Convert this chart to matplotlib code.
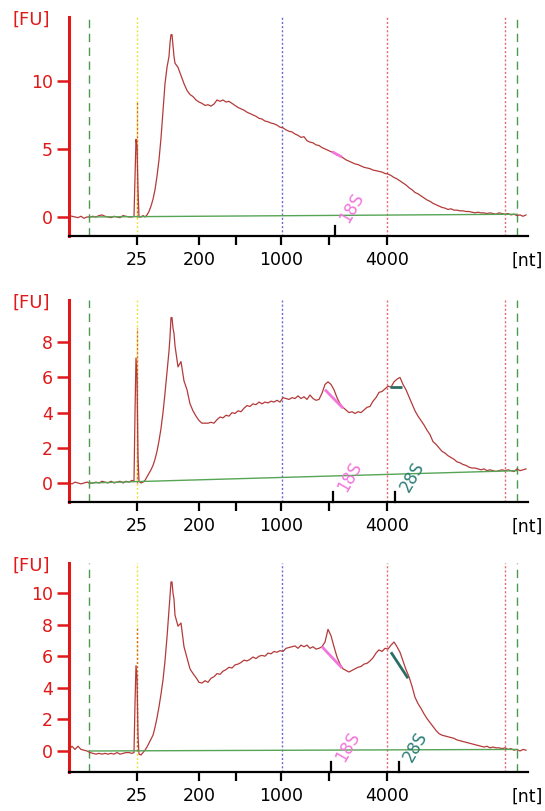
import numpy as np
import matplotlib as mpl
mpl.use('Agg')
from matplotlib import pyplot as plt

# dpi for figure
my_dpi = 100

# sample positions along the migration axis (screen-like units)
pos_head = [69, 72, 75, 78, 81, 84, 87, 90, 93, 96,
            99, 102, 105, 108, 111, 114, 117, 120, 123, 126,
            129, 132, 134, 135, 136, 137, 138, 139, 141, 143,
            145, 147, 149, 151, 153, 155, 157, 159, 161, 163,
            165, 167, 169, 170, 171, 172, 173, 174]
pos_tail = list(range(175, 527, 3))
pos = pos_head + pos_tail

# fluorescence [FU], sample 1
fu1 = [0.1, 0.05, 0.0, -0.05, 0.05, -0.1, 0.0, 0.0, 0.05, 0.0,
       0.1, 0.15, 0.05, 0.0, -0.05, 0.05, 0.0, -0.05, 0.1, 0.05,
       0.0, 0.0, 0.05, 3.0, 5.7, 5.2, 2.0, 0.0, 0.0, 0.1,
       0.0, 0.15, 0.4, 0.8, 1.3, 2.0, 3.0, 4.2, 5.8, 7.8,
       9.8, 11.0, 11.8, 12.8, 13.4, 13.4, 12.6, 11.8,
       11.3, 11.0, 10.4, 9.8, 9.3, 9.0, 8.85, 8.6, 8.45, 8.35,
       8.2, 8.25, 8.15, 8.3, 8.6, 8.5, 8.6, 8.45, 8.5, 8.35,
       8.2, 8.05, 7.95, 7.85, 7.7, 7.6, 7.5, 7.4, 7.25, 7.2,
       7.05, 7.0, 6.9, 6.85, 6.75, 6.6, 6.55, 6.4, 6.3, 6.25,
       6.1, 6.0, 5.85, 5.9, 5.6, 5.5, 5.45, 5.3, 5.25, 5.1,
       5.0, 4.9, 4.8, 4.7, 4.55, 4.5, 4.35, 4.2, 4.1, 4.0,
       3.9, 3.85, 3.75, 3.65, 3.6, 3.55, 3.45, 3.4, 3.35, 3.3,
       3.2, 3.15, 3.05, 2.9, 2.8, 2.65, 2.5, 2.35, 2.15, 2.0,
       1.8, 1.7, 1.55, 1.4, 1.25, 1.15, 1.0, 0.9, 0.8, 0.7,
       0.65, 0.55, 0.6, 0.5, 0.5, 0.45, 0.45, 0.4, 0.4, 0.35,
       0.3, 0.35, 0.3, 0.3, 0.25, 0.3, 0.25, 0.2, 0.3, 0.25,
       0.2, 0.25, 0.15, 0.2, 0.1, 0.15, 0.05, 0.15]

# fluorescence [FU], sample 2
fu2 = [0.0, -0.05, 0.05, 0.0, -0.05, 0.0, 0.05, 0.0, 0.0, 0.05,
       0.0, 0.1, 0.05, 0.0, 0.1, 0.0, 0.05, 0.1, 0.0, 0.1,
       0.05, 0.15, 0.1, 4.0, 7.1, 6.0, 1.5, 0.1, 0.0, 0.05,
       0.15, 0.35, 0.55, 0.75, 1.0, 1.35, 1.8, 2.4, 3.1, 4.0,
       5.1, 6.3, 7.5, 8.3, 9.4, 9.4, 8.8, 8.5,
       7.8, 6.6, 6.9, 5.8, 5.3, 4.5, 4.1, 3.8, 3.55, 3.4,
       3.4, 3.4, 3.45, 3.4, 3.6, 3.75, 3.7, 3.85, 3.8, 4.0,
       3.95, 4.1, 4.05, 4.25, 4.4, 4.35, 4.5, 4.45, 4.6, 4.5,
       4.6, 4.55, 4.65, 4.6, 4.7, 4.6, 4.85, 4.8, 4.75, 4.85,
       4.8, 4.95, 4.8, 4.9, 4.75, 5.0, 4.8, 4.7, 4.75, 5.1,
       5.6, 5.75, 5.6, 5.3, 4.85, 4.5, 4.3, 4.15, 4.0, 4.05,
       3.95, 4.05, 4.0, 4.15, 4.3, 4.35, 4.65, 4.85, 5.15, 5.2,
       5.35, 5.5, 5.45, 5.75, 5.9, 6.0, 5.6, 5.3, 4.9, 4.5,
       4.1, 3.8, 3.55, 3.3, 3.0, 2.75, 2.35, 2.2, 2.0, 1.8,
       1.7, 1.55, 1.45, 1.35, 1.2, 1.15, 1.05, 1.0, 0.9, 0.85,
       0.85, 0.8, 0.75, 0.8, 0.7, 0.75, 0.7, 0.65, 0.7, 0.75,
       0.7, 0.75, 0.7, 0.65, 0.8, 0.7, 0.75, 0.8]

# fluorescence [FU], sample 3
fu3 = [0.1, 0.3, 0.1, 0.3, 0.1, 0.05, 0.0, -0.1, -0.15, -0.2,
       -0.15, -0.2, -0.15, -0.2, -0.15, -0.2, -0.1, -0.2, -0.15, -0.1,
       -0.1, -0.15, -0.1, 3.0, 5.4, 4.6, 1.0, -0.2, -0.25, -0.1,
       0.05, 0.25, 0.5, 0.75, 1.0, 1.5, 2.1, 2.8, 3.6, 4.5,
       5.7, 7.2, 8.9, 9.8, 10.7, 10.7, 10.0, 9.6,
       8.6, 7.9, 8.1, 6.6, 5.9, 5.2, 4.9, 4.65, 4.35, 4.3,
       4.45, 4.35, 4.6, 4.7, 4.9, 4.85, 5.05, 5.15, 5.3, 5.25,
       5.45, 5.5, 5.6, 5.75, 5.7, 5.8, 5.95, 5.85, 6.0, 6.05,
       6.0, 6.2, 6.15, 6.3, 6.25, 6.35, 6.3, 6.5, 6.55, 6.6,
       6.65, 6.5, 6.7, 6.6, 6.7, 6.5, 6.6, 6.45, 6.5, 6.6,
       6.9, 7.7, 7.3, 6.6, 5.95, 5.5, 5.2, 5.1, 5.0, 5.1,
       5.2, 5.3, 5.35, 5.5, 5.55, 5.7, 5.9, 6.2, 6.4, 6.3,
       6.5, 6.45, 6.7, 6.9, 6.6, 6.25, 5.7, 5.15, 4.7, 4.1,
       3.4, 3.0, 2.7, 2.35, 2.05, 1.8, 1.55, 1.3, 1.1, 1.0,
       0.95, 0.9, 0.85, 0.8, 0.7, 0.65, 0.6, 0.55, 0.5, 0.45,
       0.4, 0.35, 0.3, 0.25, 0.3, 0.2, 0.25, 0.2, 0.2, 0.15,
       0.2, 0.1, 0.15, 0.05, 0.1, 0.0, 0.1, 0.05]

traces = [fu1, fu2, fu3]

# size ladder ticks on the x axis
xtick_pos = [137, 199, 236, 281, 329, 387]
xtick_lab = ['25', '200', '', '1000', '', '4000']

# baseline end points (start, end) in FU
base_x = [89, 517]
base_y = [[0.0, 0.2], [0.0, 0.7], [0.0, 0.1]]

# lower marker peak height line
marker_x = 137
marker_top = [8.5, 8.8, 7.8]

# ribosomal peak windows: (x0, y0, x1, y1)
s18_seg = [[332, 4.8, 342, 4.4], [325, 5.3, 343, 4.25], [322, 6.6, 342, 5.25]]
s28_seg = [None, [390, 5.45, 402, 5.45], [391, 6.25, 408, 4.6]]

# peak label tick and text positions
s18_tick = [335, 333, 331]
s28_tick = [None, 395, 399]
s18_txt = [[352, 0.65], [350, 0.35], [348, 0.25]]
s28_txt = [None, [412, 0.35], [415, 0.25]]

# axis settings per panel
ylims = [[-1.4, 14.7], [-1.08, 10.4], [-1.33, 11.9]]
yticks = [[0, 5, 10], [0, 2, 4, 6, 8], [0, 2, 4, 6, 8, 10]]

# layout in figure fractions
left = 69/545.
width = 459/545.
bottoms = [1-236/811., 1-502/811., 1-772/811.]
heights = [219/811., 202/811., 209/811.]

trace_col = '#b43a3a'
pink = '#f276dc'
teal = '#2f7f78'

fig = plt.figure(figsize=(545/my_dpi, 811/my_dpi), dpi=my_dpi)

for i in range(3):
  ax = fig.add_axes([left, bottoms[i], width, heights[i]])

  # reference lines
  ax.axvline(89, color='#4c9a4c', linestyle=(0, (6, 4)), linewidth=1.0)
  ax.axvline(517, color='#4c9a4c', linestyle=(0, (6, 4)), linewidth=1.0)
  ax.axvline(137, color='#f2e23c', linestyle=(0, (1.5, 1.5)), linewidth=1.0)
  ax.axvline(282, color='#6a6ad0', linestyle=(0, (1.5, 1.5)), linewidth=1.0)
  ax.axvline(387, color='#e46a6a', linestyle=(0, (1.5, 1.5)), linewidth=1.0)
  ax.axvline(505, color='#e46a6a', linestyle=(0, (1.5, 1.5)), linewidth=1.0)
  ax.plot([marker_x, marker_x], [0, marker_top[i]], color='#d86a20',
          linestyle=(0, (1.5, 1.5)), linewidth=1.0)

  # trace and baseline
  ax.plot(pos, traces[i], color=trace_col, linewidth=0.9)
  ax.plot(base_x, base_y[i], color='#56a456', linewidth=1.0)

  # 18S / 28S windows
  s = s18_seg[i]
  ax.plot([s[0], s[2]], [s[1], s[3]], color=pink, linewidth=2.0, solid_capstyle='butt')
  if s28_seg[i] is not None:
    s = s28_seg[i]
    ax.plot([s[0], s[2]], [s[1], s[3]], color='#2a6e66', linewidth=2.0, solid_capstyle='butt')

  ax.set_xlim(69, 528)
  ax.set_ylim(ylims[i])

  # marker ticks pointing up from the x axis
  frac = 10./(heights[i]*811)
  ax.plot([s18_tick[i]]*2, [0, frac], color='black', linewidth=1.6,
          transform=ax.get_xaxis_transform(), clip_on=False)
  ax.text(s18_txt[i][0], s18_txt[i][1], '18S', rotation=60, ha='center', va='center',
          color=pink, fontsize=12)
  if s28_tick[i] is not None:
    ax.plot([s28_tick[i]]*2, [0, frac], color='black', linewidth=1.6,
            transform=ax.get_xaxis_transform(), clip_on=False)
    ax.text(s28_txt[i][0], s28_txt[i][1], '28S', rotation=60, ha='center', va='center',
            color=teal, fontsize=12)

  # axes styling
  ax.spines['top'].set_visible(False)
  ax.spines['right'].set_visible(False)
  ax.spines['left'].set_color('#e01818')
  ax.spines['left'].set_linewidth(2.2)
  ax.spines['bottom'].set_color('black')
  ax.spines['bottom'].set_linewidth(1.6)

  ax.set_yticks(yticks[i])
  ax.tick_params(axis='y', colors='#e01818', length=8.5, width=1.8, pad=3, labelsize=12.5)
  ax.set_xticks(xtick_pos)
  ax.set_xticklabels(xtick_lab)
  ax.tick_params(axis='x', colors='black', length=6.5, width=1.6, pad=4.5, labelsize=12.5)

  ax.annotate('[nt]', xy=(527, 0), xycoords=('data', 'axes fraction'),
              xytext=(0, -11), textcoords='offset points', ha='center', va='top',
              fontsize=12.5, color='black')
  ax.annotate('[FU]', xy=(0, 1), xycoords='axes fraction',
              xytext=(-27, -2), textcoords='offset points', ha='center', va='center',
              fontsize=13, color='#e01818')

plt.savefig('out.png', dpi=my_dpi)
